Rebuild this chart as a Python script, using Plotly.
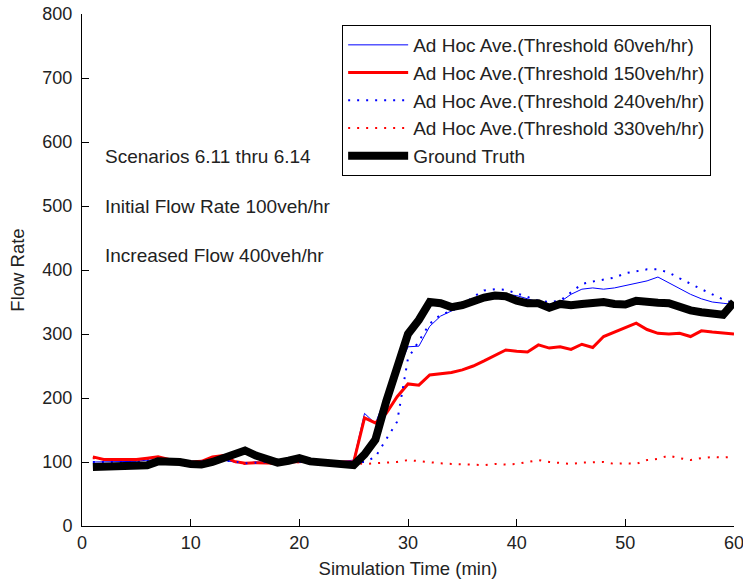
import plotly.graph_objects as go

minutes = list(range(1, 61))

blue60 = [100,100,100,100,101,103,103,100,100,100,
          100,102,103,100,98,100,100,98,100,100,
          100,100,100,101,103,176,160,205,240,280,
          281,312,328,336,342,350,358,362,362,360,
          355,350,347,350,362,370,372,370,372,376,
          380,383,389,380,370,362,355,350,348,346]

red150 = [108,104,104,104,104,106,108,104,100,100,
          101,108,110,101,98,99,98,98,100,100,
          101,99,98,100,100,169,161,176,202,222,
          220,236,238,240,244,250,258,266,275,273,
          272,283,278,280,276,284,279,296,303,310,
          317,307,301,300,301,296,305,303,302,300]

blue240 = [100,100,100,100,100,102,102,100,100,100,
           100,101,103,100,98,99,100,97,100,100,
           100,100,99,100,100,100,108,135,163,262,
           288,316,330,336,345,358,368,370,369,364,
           358,352,350,352,365,378,382,385,388,395,
           398,401,401,396,387,378,370,362,354,348]

red330 = [106,104,103,103,103,105,104,102,100,100,
          100,106,108,100,97,99,98,97,100,100,
          100,99,98,99,99,97,98,99,100,103,
          101,100,98,97,97,96,95,97,96,97,
          100,103,100,98,97,99,100,100,97,98,
          97,103,105,110,106,103,106,108,107,108]

ground_truth = [92,92,92,92,93,95,101,101,100,97,
                96,100,106,115,118,110,104,99,102,106,
                101,99,97,96,95,112,135,195,250,300,
                322,350,348,342,345,352,357,360,359,352,
                348,348,341,347,345,347,350,350,347,346,
                352,352,349,348,342,337,334,332,330,350]

names = ["Ad Hoc Ave.(Threshold 60veh/hr)", "Ad Hoc Ave.(Threshold 150veh/hr)",
         "Ad Hoc Ave.(Threshold 240veh/hr)", "Ad Hoc Ave.(Threshold 330veh/hr)",
         "Ground Truth"]

notes = ["Scenarios 6.11 thru 6.14", "Initial Flow Rate 100veh/hr", "Increased Flow 400veh/hr"]
note_y = [577, 500, 423]

FONT = "Liberation Sans, Arial, sans-serif"
TXT = "#222"

fig = go.Figure()
fig.add_trace(go.Scatter(x=minutes, y=blue60, mode="lines", name=names[0],
                         line=dict(color="#0000ff", width=1)))
fig.add_trace(go.Scatter(x=minutes, y=red150, mode="lines", name=names[1],
                         line=dict(color="#ff0000", width=3)))
fig.add_trace(go.Scatter(x=minutes, y=blue240, mode="lines", name=names[2],
                         line=dict(color="#0000ff", width=2, dash="2px,7px")))
fig.add_trace(go.Scatter(x=minutes, y=red330, mode="lines", name=names[3],
                         line=dict(color="#ff0000", width=2, dash="2px,7px")))
fig.add_trace(go.Scatter(x=minutes, y=ground_truth, mode="lines", name=names[4],
                         line=dict(color="#000000", width=8)))

for t, yy in zip(notes, note_y):
    fig.add_annotation(x=1.9, y=yy, text=t, showarrow=False, xanchor="left",
                       yanchor="middle", font=dict(family=FONT, size=19, color=TXT))

fig.update_layout(
    width=743, height=584,
    margin=dict(l=82, r=9, t=14, b=58, autoexpand=False),
    paper_bgcolor="white", plot_bgcolor="white",
    font=dict(family=FONT, size=18, color=TXT),
    showlegend=True,
    legend=dict(x=0.399, y=0.9785, xanchor="left", yanchor="top",
                bordercolor="black", borderwidth=1, bgcolor="white",
                font=dict(family=FONT, size=19, color=TXT),
                itemwidth=60, tracegroupgap=0),
)
fig.update_xaxes(range=[0, 60], tickmode="linear", tick0=0, dtick=10,
                 ticks="inside", ticklen=7, tickcolor="black",
                 showline=True, linecolor="black", linewidth=1,
                 showgrid=False, zeroline=False, automargin=False,
                 ticklabeloverflow="allow",
                 tickfont=dict(family=FONT, size=18, color=TXT),
                 title=dict(text="Simulation Time (min)", standoff=10,
                            font=dict(family=FONT, size=18.5, color=TXT)))
fig.update_yaxes(range=[0, 800], tickmode="linear", tick0=0, dtick=100,
                 ticks="inside", ticklen=7, tickcolor="black",
                 showline=True, linecolor="black", linewidth=1,
                 showgrid=False, zeroline=False, automargin=False,
                 ticklabelstandoff=5, ticklabeloverflow="allow",
                 tickfont=dict(family=FONT, size=18, color=TXT),
                 title=dict(text="Flow Rate", standoff=12,
                            font=dict(family=FONT, size=18.5, color=TXT)))

fig.write_html("out.html")
